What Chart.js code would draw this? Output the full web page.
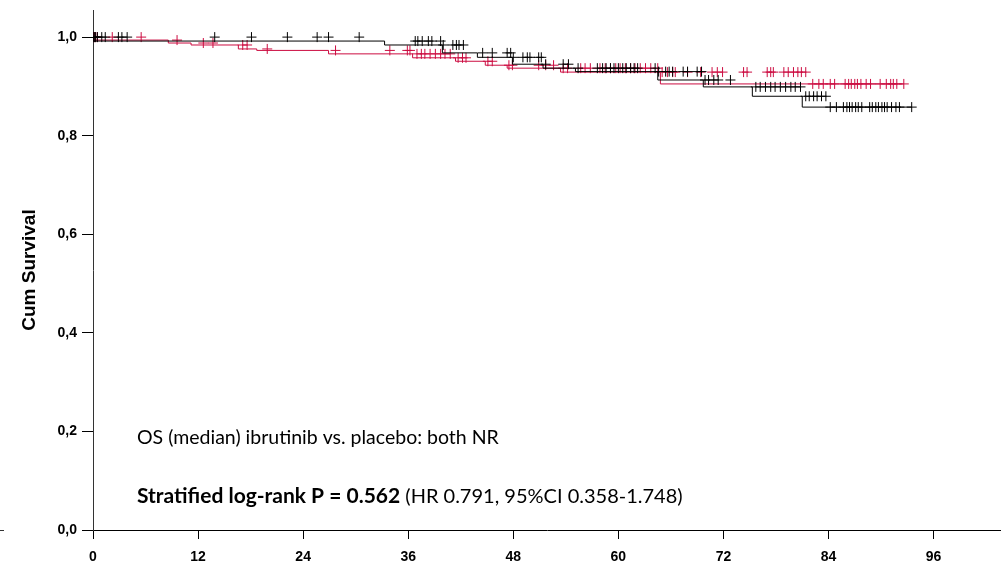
<!DOCTYPE html>
<html>
<head>
<meta charset="utf-8">
<script src="https://cdn.jsdelivr.net/npm/chart.js@4.4.1/dist/chart.umd.min.js"></script>
<style>
  html, body { margin: 0; padding: 0; background: #fff; }
  #wrap { width: 1001px; height: 566px; }
</style>
</head>
<body>
<div id="wrap"><canvas id="km" width="1001" height="566"></canvas></div>
<script>
// axis ticks (months / cumulative survival)
const xTicks = [0, 12, 24, 36, 48, 60, 72, 84, 96];
const yTicks = [0, 0.2, 0.4, 0.6, 0.8, 1.0];

// placebo arm (black) - step times and survival after each step
const placeboStepTimes = [0, 33.3, 39.9, 43.9, 47.9, 51.4, 55.1, 64.5, 69.7, 75.3, 81.0, 84.0];
const placeboStepSurv  = [1.0, 0.992, 0.984, 0.968, 0.959, 0.945, 0.937, 0.930, 0.913, 0.899, 0.880, 0.858];
const placeboEnd = 93.5;
const placeboCensored = [0, 0.1, 0.2, 0.3, 0.5, 1.0, 1.4, 2.9, 3.3, 3.9, 13.9, 18.1, 22.2, 25.6, 26.9,
  30.4, 36.8, 37.1, 37.6, 38.3, 38.7, 39.7, 40.0, 41.1, 41.5, 41.8, 42.3, 44.5, 45.6,
  47.3, 47.7, 48.0, 49.1, 49.6, 49.9, 50.9, 51.2, 51.7, 53.7, 54.3, 55.4, 57.6, 58.2, 58.6,
  59.1, 59.5, 60.0, 60.5, 60.9, 61.4, 61.8, 62.2, 64.2, 64.6, 65.4, 65.8, 66.2, 67.4, 67.9,
  69.0, 69.5, 69.9, 70.3, 70.9, 71.4, 72.8, 75.7, 76.2, 76.8, 77.4, 77.9, 78.5, 79.1, 79.7,
  80.2, 80.8, 81.4, 81.8, 82.3, 82.7, 83.2, 83.7, 84.2, 84.9, 85.7, 86.1, 86.4, 86.7, 87.1,
  87.4, 87.8, 88.7, 89.0, 89.4, 89.7, 90.1, 90.4, 90.7, 91.2, 91.7, 92.1, 93.5];

// ibrutinib arm (red)
const ibrutinibStepTimes = [0, 8.6, 11.2, 16.6, 18.7, 26.9, 36.5, 41.4, 44.8, 47.3, 53.4, 64.8, 81.7];
const ibrutinibStepSurv  = [1.0, 0.994, 0.988, 0.984, 0.976, 0.973, 0.966, 0.958, 0.951, 0.943, 0.937, 0.929, 0.905];
const ibrutinibEnd = 92.6;
const ibrutinibCensored = [0, 0.1, 0.2, 0.3, 0.5, 2.2, 5.5, 9.6, 12.6, 13.7, 17.1, 17.6, 19.9, 27.7,
  33.9, 35.9, 36.2, 37.0, 37.5, 37.9, 38.5, 39.1, 39.7, 40.2, 40.8, 41.7, 42.2, 42.6, 45.1, 45.6,
  47.5, 47.9, 50.9, 51.7, 52.6, 53.7, 54.2, 55.7, 56.2, 56.8, 57.9, 58.5, 59.1, 59.7, 60.2,
  60.8, 61.4, 61.9, 62.5, 63.1, 63.7, 64.5, 65.0, 65.6, 66.2, 66.5, 67.9, 69.4, 70.7, 71.3,
  71.9, 74.3, 74.7, 77.0, 77.4, 77.7, 78.9, 79.4, 80.0, 80.5, 80.9, 81.4, 82.2, 82.9, 83.4,
  84.2, 84.7, 85.9, 86.3, 86.6, 87.0, 87.3, 87.7, 88.3, 88.8, 89.9, 90.6, 91.1, 91.4, 91.8, 92.6];

const BLACK = '#000000';
const RED = '#cc0c40';

// KM value at time t (last step at or before t)
function survAt(times, surv, t) {
  let s = surv[0];
  for (let i = 0; i < times.length; i++) {
    if (times[i] <= t) s = surv[i];
  }
  return s;
}

function stepPoints(times, surv, end) {
  const pts = times.map((t, i) => ({ x: t, y: surv[i] }));
  pts.push({ x: end, y: surv[surv.length - 1] });
  return pts;
}

function censorPoints(times, surv, cens) {
  return cens.map(t => ({ x: t, y: survAt(times, surv, t) }));
}

const annotations = {
  id: 'annotations',
  afterDraw(chart) {
    const ctx = chart.ctx;
    ctx.save();
    ctx.fillStyle = '#000';
    ctx.textBaseline = 'alphabetic';
    ctx.font = '19.5px Lato';
    ctx.fillText('OS (median) ibrutinib vs. placebo: both NR', 137, 444);
    ctx.font = 'bold 21px Lato';
    const bold = 'Stratified log-rank P = 0.562';
    ctx.fillText(bold, 137, 503);
    const w = ctx.measureText(bold).width;
    ctx.font = '20px Lato';
    ctx.fillText(' (HR 0.791, 95%CI 0.358-1.748)', 137 + w, 503);
    // small stray tick at the far left
    ctx.strokeStyle = '#333';
    ctx.lineWidth = 1;
    ctx.beginPath();
    ctx.moveTo(0, 530.5);
    ctx.lineTo(4, 530.5);
    ctx.stroke();
    ctx.restore();
  }
};

new Chart(document.getElementById('km'), {
  type: 'scatter',
  data: {
    datasets: [
      {
        label: 'placebo censored',
        data: censorPoints(placeboStepTimes, placeboStepSurv, placeboCensored),
        pointStyle: 'cross',
        pointRadius: 5,
        borderColor: BLACK,
        borderWidth: 1,
        showLine: false
      },
      {
        label: 'placebo',
        data: stepPoints(placeboStepTimes, placeboStepSurv, placeboEnd),
        showLine: true,
        stepped: 'after',
        borderColor: BLACK,
        borderWidth: 1,
        pointRadius: 0
      },
      {
        label: 'ibrutinib censored',
        data: censorPoints(ibrutinibStepTimes, ibrutinibStepSurv, ibrutinibCensored),
        pointStyle: 'cross',
        pointRadius: 5,
        borderColor: RED,
        borderWidth: 1,
        showLine: false
      },
      {
        label: 'ibrutinib',
        data: stepPoints(ibrutinibStepTimes, ibrutinibStepSurv, ibrutinibEnd),
        showLine: true,
        stepped: 'after',
        borderColor: RED,
        borderWidth: 1,
        pointRadius: 0
      }
    ]
  },
  options: {
    responsive: false,
    animation: false,
    layout: { autoPadding: false, padding: { top: 10, right: 0, left: 0, bottom: 0 } },
    plugins: {
      legend: { display: false },
      tooltip: { enabled: false }
    },
    scales: {
      x: {
        type: 'linear',
        min: 0,
        max: 103.7,
        afterBuildTicks: (scale) => { scale.ticks = xTicks.map(v => ({ value: v })); },
        afterFit: (scale) => {
          scale.height = 36;
          scale.paddingLeft = 0;
          scale.paddingRight = 0;
        },
        grid: { drawOnChartArea: false, drawTicks: true, tickLength: 9, color: BLACK },
        border: { display: true, color: BLACK, width: 1 },
        ticks: {
          color: BLACK,
          padding: 10,
          maxRotation: 0,
          font: { family: 'Liberation Sans', size: 14, weight: 'bold' }
        }
      },
      y: {
        type: 'linear',
        min: 0,
        max: 1.055,
        afterBuildTicks: (scale) => { scale.ticks = yTicks.map(v => ({ value: v })); },
        afterFit: (scale) => {
          scale.width = 93;
          scale.paddingTop = 0;
          scale.paddingBottom = 0;
        },
        grid: { drawOnChartArea: false, drawTicks: true, tickLength: 11, color: BLACK },
        border: { display: true, color: '#333', width: 1 },
        ticks: {
          color: BLACK,
          padding: 5,
          font: { family: 'Liberation Sans', size: 14, weight: 'bold' },
          callback: (v) => v.toFixed(1).replace('.', ',')
        },
        title: {
          display: true,
          text: 'Cum Survival',
          color: BLACK,
          padding: { top: 18, bottom: 0 },
          font: { family: 'Liberation Sans', size: 19, weight: 'bold' }
        }
      }
    }
  },
  plugins: [annotations]
});
</script>
</body>
</html>
